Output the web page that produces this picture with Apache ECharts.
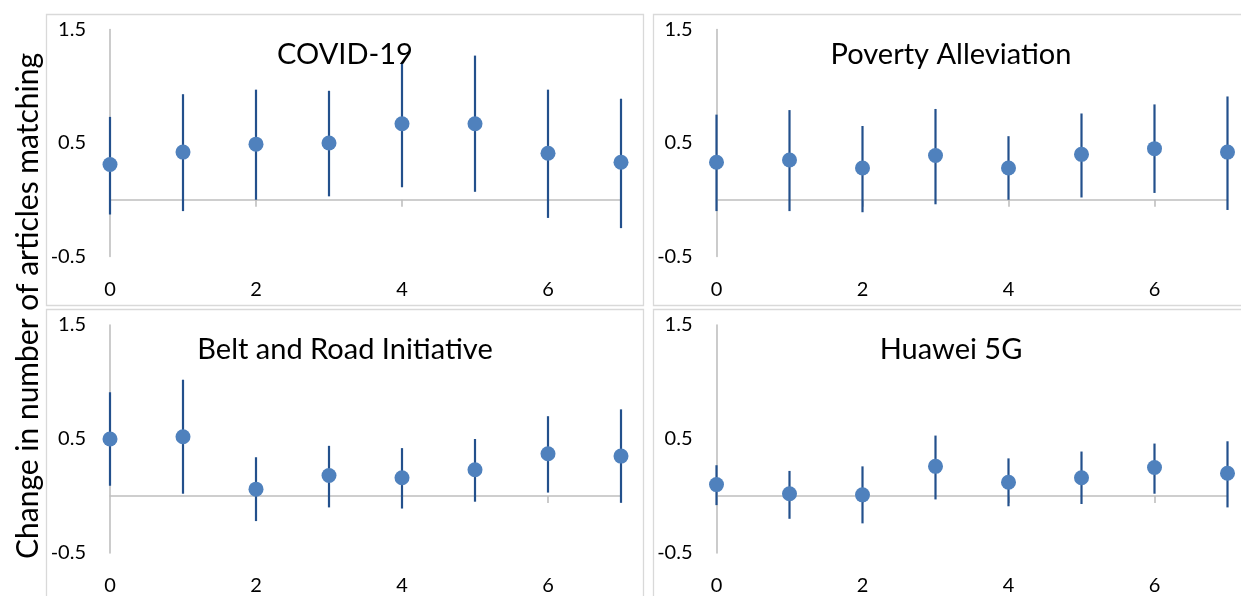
<!DOCTYPE html>
<html>
<head>
<meta charset="utf-8">
<script src="https://cdn.jsdelivr.net/npm/echarts@6/dist/echarts.min.js"></script>
<style>
html,body{margin:0;padding:0;background:#fff;}
#chart{width:1241px;height:596px;}
</style>
</head>
<body>
<div id="chart"></div>
<script>
// ---- data ----
const xValues = [0, 1, 2, 3, 4, 5, 6, 7];
const xTickLabels = [0, 2, 4, 6];
const yTickLabels = [-0.5, 0.5, 1.5];
const yAxisTitle = 'Change in number of articles matching';
const panelTitles = ['COVID-19', 'Poverty Alleviation', 'Belt and Road Initiative', 'Huawei 5G'];

const covidMean = [0.31, 0.42, 0.49, 0.50, 0.67, 0.67, 0.41, 0.33];
const covidLow  = [-0.13, -0.10, 0.00, 0.03, 0.11, 0.07, -0.16, -0.25];
const covidHigh = [0.73, 0.93, 0.97, 0.96, 1.21, 1.27, 0.97, 0.89];

const povertyMean = [0.33, 0.35, 0.28, 0.39, 0.28, 0.40, 0.45, 0.42];
const povertyLow  = [-0.10, -0.10, -0.11, -0.04, 0.00, 0.02, 0.06, -0.09];
const povertyHigh = [0.75, 0.79, 0.65, 0.80, 0.56, 0.76, 0.84, 0.91];

const briMean = [0.50, 0.52, 0.06, 0.18, 0.16, 0.23, 0.37, 0.35];
const briLow  = [0.09, 0.02, -0.22, -0.10, -0.11, -0.05, 0.03, -0.06];
const briHigh = [0.91, 1.02, 0.34, 0.44, 0.42, 0.50, 0.70, 0.76];

const huaweiMean = [0.10, 0.02, 0.01, 0.26, 0.12, 0.16, 0.25, 0.20];
const huaweiLow  = [-0.08, -0.20, -0.24, -0.03, -0.09, -0.07, 0.02, -0.10];
const huaweiHigh = [0.27, 0.22, 0.26, 0.53, 0.33, 0.39, 0.46, 0.48];

const panelMeans = [covidMean, povertyMean, briMean, huaweiMean];
const panelLows = [covidLow, povertyLow, briLow, huaweiLow];
const panelHighs = [covidHigh, povertyHigh, briHigh, huaweiHigh];

// ---- layout / style ----
const FONT = 'Lato';
const DOT = '#4F81BD';
const WHISK = '#23508C';
const AXIS = '#BFBFBF';
const BORDER = '#D9D9D9';
const TEXT = '#000';

const gridPos = [
  {left: 110, top: 29.5, width: 511, height: 227},
  {left: 716.5, top: 29.5, width: 511, height: 227},
  {left: 110, top: 325, width: 511, height: 228},
  {left: 716.5, top: 325, width: 511, height: 228}
];
const panelRects = [
  {x: 46, y: 14, w: 597, h: 291},
  {x: 653, y: 14, w: 600, h: 291},
  {x: 46, y: 309, w: 597, h: 295},
  {x: 653, y: 309, w: 600, h: 295}
];
const titlePos = [
  {x: 345, y: 54.5}, {x: 951, y: 54.5}, {x: 345, y: 350}, {x: 951, y: 350}
];

const grids = [], xAxes = [], yAxes = [], series = [], graphics = [];

panelRects.forEach(r => {
  graphics.push({type: 'rect', silent: true, z: -10,
    shape: {x: r.x + 0.5, y: r.y + 0.5, width: r.w, height: r.h},
    style: {fill: '#fff', stroke: BORDER, lineWidth: 1.3}});
});

for (let p = 0; p < 4; p++) {
  grids.push(Object.assign({outerBoundsMode: 'none', containLabel: false}, gridPos[p]));
  // label axis at bottom
  xAxes.push({
    gridIndex: p, type: 'value', min: 0, max: 7, position: 'bottom',
    axisLine: {show: false, onZero: false}, axisTick: {show: false},
    splitLine: {show: false},
    axisLabel: {customValues: xTickLabels, margin: 23, fontFamily: FONT, fontSize: 20, color: TEXT}
  });
  // zero line axis
  xAxes.push({
    gridIndex: p, type: 'value', min: 0, max: 7, position: 'bottom',
    axisLine: {show: true, onZero: true, lineStyle: {color: AXIS, width: 1.6}},
    axisTick: {show: true, customValues: [2, 4, 6], length: 7, lineStyle: {color: AXIS, width: 1.6}},
    axisLabel: {show: false}, splitLine: {show: false}
  });
  yAxes.push({
    gridIndex: p, type: 'value', min: -0.5, max: 1.5, interval: 1,
    axisLine: {show: true, onZero: false, lineStyle: {color: AXIS, width: 1.6}},
    axisTick: {show: false}, splitLine: {show: false},
    axisLabel: {customValues: yTickLabels, margin: 24, fontFamily: FONT, fontSize: 20, color: TEXT,
      formatter: v => v.toFixed(1)}
  });
  const means = panelMeans[p], lows = panelLows[p], highs = panelHighs[p];
  series.push({
    type: 'custom', xAxisIndex: p * 2, yAxisIndex: p, z: 3,
    data: xValues.map((x, i) => [x, lows[i], highs[i]]),
    encode: {x: 0, y: [1, 2]},
    renderItem: (params, api) => {
      const a = api.coord([api.value(0), api.value(1)]);
      const b = api.coord([api.value(0), api.value(2)]);
      return {type: 'line', shape: {x1: a[0], y1: a[1], x2: b[0], y2: b[1]},
        style: {stroke: WHISK, lineWidth: 2.2}};
    },
    silent: true
  });
  series.push({
    type: 'scatter', xAxisIndex: p * 2, yAxisIndex: p, z: 4,
    data: xValues.map((x, i) => [x, means[i]]),
    symbol: 'circle', symbolSize: 15,
    itemStyle: {color: DOT, opacity: 1},
    silent: true
  });
  graphics.push({type: 'text', silent: true, z: 10, x: titlePos[p].x, y: titlePos[p].y,
    style: {text: panelTitles[p], font: '29px ' + FONT, fill: TEXT, textAlign: 'center', textVerticalAlign: 'middle'}});
}

graphics.push({type: 'text', silent: true, z: 10, x: 28, y: 306, rotation: Math.PI / 2,
  style: {text: yAxisTitle, font: '30px ' + FONT, fill: TEXT, textAlign: 'center', textVerticalAlign: 'middle'}});

const chart = echarts.init(document.getElementById('chart'), null, {renderer: 'canvas'});
chart.setOption({
  animation: false,
  backgroundColor: '#fff',
  grid: grids, xAxis: xAxes, yAxis: yAxes, series: series, graphic: graphics
});
</script>
</body>
</html>
